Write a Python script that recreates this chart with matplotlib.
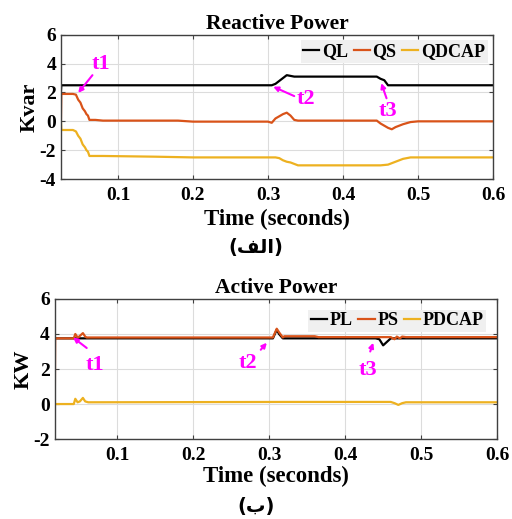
import matplotlib.pyplot as plt

# ---- Reactive power data (time in s, values in kvar) ----
t_ql = [0.024, 0.0245, 0.305, 0.31, 0.315, 0.32, 0.325, 0.33, 0.335, 0.445, 0.45, 0.455, 0.46, 0.6]
ql = [2.1, 2.5, 2.5, 2.6, 2.8, 3.0, 3.2, 3.15, 3.1, 3.1, 2.95, 2.85, 2.5, 2.5]

t_qs = [0.024, 0.0245, 0.04, 0.044, 0.047, 0.05, 0.053, 0.056, 0.058, 0.06, 0.062, 0.07,
        0.08, 0.18, 0.2, 0.3, 0.305, 0.31, 0.315, 0.32, 0.325, 0.33, 0.335, 0.34, 0.445,
        0.45, 0.455, 0.46, 0.465, 0.47, 0.475, 0.48, 0.49, 0.5, 0.6]
qs = [0.0, 1.9, 1.9, 1.85, 1.5, 1.3, 0.9, 0.7, 0.5, 0.4, 0.1, 0.1,
      0.05, 0.05, -0.02, -0.02, -0.1, 0.2, 0.35, 0.5, 0.6, 0.4, 0.1, 0.05, 0.05,
      -0.15, -0.3, -0.45, -0.55, -0.4, -0.3, -0.2, -0.05, 0.0, 0.0]

t_qd = [0.024, 0.0245, 0.04, 0.044, 0.047, 0.05, 0.053, 0.056, 0.058, 0.06, 0.062, 0.08,
        0.15, 0.2, 0.31, 0.315, 0.32, 0.325, 0.33, 0.335, 0.34, 0.45, 0.46, 0.465, 0.47,
        0.475, 0.48, 0.49, 0.5, 0.6]
qd = [0.0, -0.6, -0.6, -0.7, -1.0, -1.2, -1.6, -1.8, -2.0, -2.1, -2.4, -2.4,
      -2.45, -2.5, -2.5, -2.55, -2.7, -2.8, -2.85, -2.95, -3.05, -3.05, -3.0, -2.9, -2.8,
      -2.7, -2.6, -2.5, -2.5, -2.5]

# ---- Active power data (time in s, values in kW) ----
t_pl = [0.018, 0.305, 0.31, 0.313, 0.318, 0.44, 0.445, 0.45, 0.455, 0.46, 0.6]
pl = [3.75, 3.75, 4.25, 4.0, 3.75, 3.75, 3.7, 3.35, 3.55, 3.75, 3.75]

t_ps = [0.018, 0.0185, 0.043, 0.045, 0.048, 0.05, 0.055, 0.058, 0.06, 0.305, 0.31, 0.313,
        0.318, 0.32, 0.36, 0.365, 0.46, 0.465, 0.468, 0.472, 0.475, 0.48, 0.6]
ps = [0.0, 3.75, 3.75, 4.0, 3.8, 3.85, 4.05, 3.85, 3.8, 3.8, 4.3, 4.1,
      3.8, 3.87, 3.87, 3.82, 3.82, 3.7, 3.85, 3.75, 3.85, 3.82, 3.82]

t_pd = [0.018, 0.043, 0.045, 0.048, 0.051, 0.055, 0.058, 0.062, 0.32, 0.46, 0.465, 0.47,
        0.475, 0.48, 0.6]
pd = [0.0, 0.0, 0.3, 0.1, 0.15, 0.35, 0.15, 0.1, 0.12, 0.12, 0.05, -0.05, 0.05, 0.1, 0.1]

c_black = 'black'
c_orange = '#D95319'
c_yellow = '#EDB120'
magenta = '#FF00FF'

plt.rcParams['font.family'] = ['Liberation Serif', 'DejaVu Serif']
plt.rcParams['font.weight'] = 'bold'
plt.rcParams['axes.labelweight'] = 'bold'
plt.rcParams['axes.titleweight'] = 'bold'
plt.rcParams['axes.unicode_minus'] = False


def style(ax, xmin):
    ax.set_xlim(xmin, 0.6)
    ax.set_xticks([0.1, 0.2, 0.3, 0.4, 0.5, 0.6])
    ax.set_xticklabels(['0.1', '0.2', '0.3', '0.4', '0.5', '0.6'])
    ax.grid(True, color='#dcdcdc', linewidth=0.8)
    ax.tick_params(direction='in', top=True, right=True, labelsize=14, length=3,
                   color='#404040')
    ax.tick_params(axis='x', pad=6)
    for s in ax.spines.values():
        s.set_color('#404040')
        s.set_linewidth(1.0)
    for lab in ax.get_xticklabels() + ax.get_yticklabels():
        lab.set_fontweight('bold')


def arrow(ax, text, tip, tail, txt):
    ax.annotate('', xy=tip, xytext=tail,
                arrowprops=dict(arrowstyle='-|>', color=magenta, lw=1.5,
                                mutation_scale=7, shrinkA=0, shrinkB=0))
    ax.text(txt[0], txt[1], text, color=magenta, fontsize=16, fontweight='bold',
            ha='center', va='center')


def legend(ax, pad):
    leg = ax.legend(loc='upper right', ncol=3, fontsize=13, handlelength=0.9,
                    handletextpad=0.15, columnspacing=0.3, borderpad=0.15,
                    borderaxespad=pad, fancybox=False, framealpha=1)
    leg.get_frame().set_facecolor('#f0f0f0')
    leg.get_frame().set_edgecolor('none')
    for txt in leg.get_texts():
        txt.set_fontweight('bold')


fig = plt.figure(figsize=(5.12, 5.19), dpi=100)

# ---- Reactive power ----
ax1 = fig.add_axes([0.119, 0.655, 0.844, 0.278])
ax1.plot(t_ql, ql, color=c_black, lw=1.6, label='QL')
ax1.plot(t_qs, qs, color=c_orange, lw=1.6, label='QS')
ax1.plot(t_qd, qd, color=c_yellow, lw=1.6, label='QDCAP')
style(ax1, 0.024)
ax1.set_ylim(-4, 6)
ax1.set_yticks([-4, -2, 0, 2, 4, 6])
ax1.set_title('Reactive Power', fontsize=15.5, fontweight='bold', pad=4)
ax1.set_ylabel('Kvar', fontsize=16, fontweight='bold', labelpad=0)
ax1.set_xlabel('Time (seconds)', fontsize=16.5, fontweight='bold', labelpad=3)
legend(ax1, 0.3)
arrow(ax1, 't1', (0.047, 1.97), (0.066, 3.2), (0.077, 3.95))
arrow(ax1, 't2', (0.307, 2.4), (0.335, 1.75), (0.35, 1.55))
arrow(ax1, 't3', (0.451, 2.65), (0.458, 1.6), (0.46, 0.7))

# ---- Active power ----
ax2 = fig.add_axes([0.107, 0.154, 0.864, 0.27])
ax2.plot(t_pl, pl, color=c_black, lw=1.6, label='PL')
ax2.plot(t_ps, ps, color=c_orange, lw=1.6, label='PS')
ax2.plot(t_pd, pd, color=c_yellow, lw=1.6, label='PDCAP')
style(ax2, 0.018)
ax2.set_ylim(-2, 6)
ax2.set_yticks([-2, 0, 2, 4, 6])
ax2.set_title('Active Power', fontsize=15.5, fontweight='bold', pad=4)
ax2.set_ylabel('KW', fontsize=16, fontweight='bold', labelpad=0)
ax2.set_xlabel('Time (seconds)', fontsize=16.5, fontweight='bold', labelpad=1)
legend(ax2, 0.6)
arrow(ax2, 't1', (0.042, 3.8), (0.06, 3.2), (0.071, 2.25))
arrow(ax2, 't2', (0.297, 3.5), (0.289, 3.1), (0.272, 2.35))
arrow(ax2, 't3', (0.437, 3.5), (0.433, 3.0), (0.43, 1.95))

# Arabic captions, pre-shaped (presentation forms, visual order)
fig.text(0.5, 0.524, '(\ufed2\ufedf\ufe8d)', ha='center', va='center', fontsize=14,
         fontweight='bold', family=['DejaVu Sans'])
fig.text(0.5, 0.024, '(\ufe8f)', ha='center', va='center', fontsize=14,
         fontweight='bold', family=['DejaVu Sans'])

fig.savefig('out.png', dpi=100)
